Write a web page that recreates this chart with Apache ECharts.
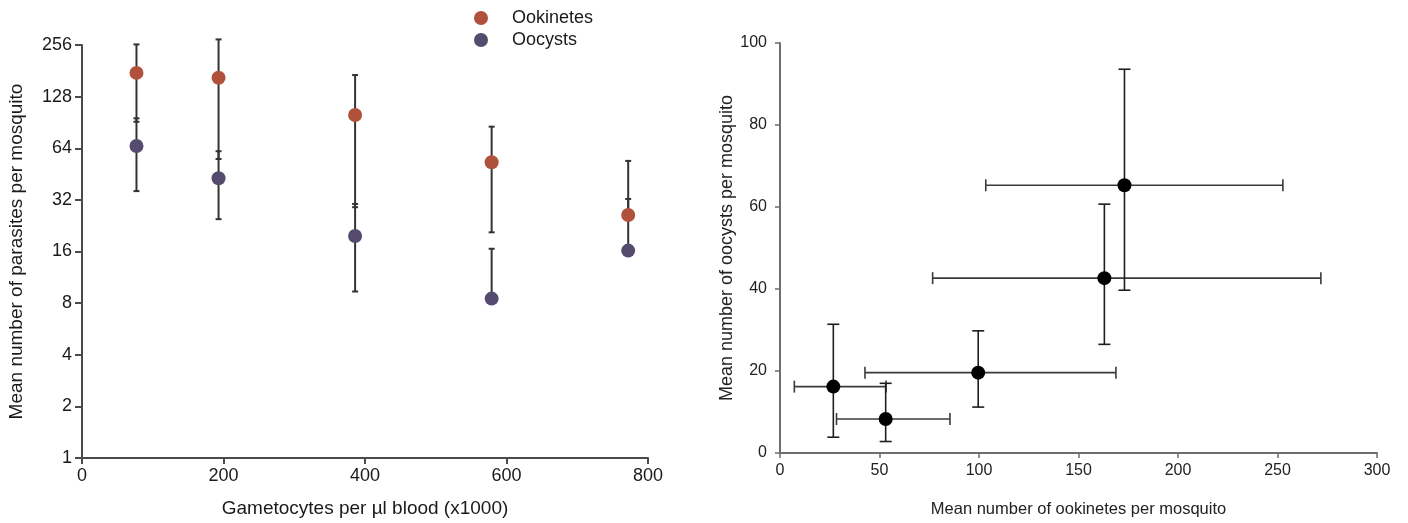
<!DOCTYPE html>
<html>
<head>
<meta charset="utf-8">
<script src="https://cdn.jsdelivr.net/npm/echarts@6/dist/echarts.min.js"></script>
<style>
  html, body { margin: 0; padding: 0; background: #fff; }
  #chart { width: 1408px; height: 523px; }
</style>
</head>
<body>
<div id="chart"></div>
<script>
// Panel A: parasite counts against gametocyte density (log2 scale)
const gametocytes = [77, 193, 386, 579, 772];
const ookinetesMean = [176, 165, 100, 53, 26.1];
const ookinetesLow = [91.3, 55.4, 29.0, 20.7, null];
const ookinetesHigh = [258, 276, 171, 85.5, 54];
const oocystsMean = [66, 42.8, 19.7, 8.5, 16.2];
const oocystsLow = [36, 24.7, 9.35, null, null];
const oocystsHigh = [95.7, 61.5, 30.3, 16.6, 32.4];
const leftYTicks = [1, 2, 4, 8, 16, 32, 64, 128, 256];

// Panel B: oocysts against ookinetes per mosquito
const ookX = [26.8, 53.1, 99.6, 163.0, 173.1];
const ookXLow = [7.2, 28.4, 42.7, 76.7, 103.4];
const ookXHigh = [53.3, 85.4, 168.8, 271.8, 252.7];
const oocY = [16.2, 8.3, 19.6, 42.65, 65.3];
const oocYLow = [3.85, 2.8, 11.2, 26.5, 39.7];
const oocYHigh = [31.4, 17.0, 29.8, 60.7, 93.6];

const ookColor = '#b0523b';
const oocColor = '#544b6f';
const leftFont = '"Liberation Sans", Arial, sans-serif';
const rightFont = '"Liberation Sans Narrow", "Arial Narrow", "Liberation Sans", sans-serif';

const zip = (...cols) => cols[0].map((_, i) => cols.map(c => c[i]));

function verticalBars(cap, color, width) {
  return function (params, api) {
    const x = api.value(0);
    const mean = api.value(1);
    const low = api.value(2);
    const high = api.value(3);
    const pMean = api.coord([x, mean]);
    const pHigh = api.coord([x, high]);
    const hasLow = low != null && !isNaN(low);
    const pLow = hasLow ? api.coord([x, low]) : pMean;
    const style = { stroke: color, lineWidth: width };
    const children = [
      { type: 'line', shape: { x1: pLow[0], y1: pLow[1], x2: pHigh[0], y2: pHigh[1] }, style },
      { type: 'line', shape: { x1: pHigh[0] - cap, y1: pHigh[1], x2: pHigh[0] + cap, y2: pHigh[1] }, style }
    ];
    if (hasLow) {
      children.push({ type: 'line', shape: { x1: pLow[0] - cap, y1: pLow[1], x2: pLow[0] + cap, y2: pLow[1] }, style });
    }
    return { type: 'group', children };
  };
}

function crossBars(params, api) {
  const x = api.value(0), y = api.value(1);
  const xl = api.coord([api.value(2), y]);
  const xh = api.coord([api.value(3), y]);
  const yl = api.coord([x, api.value(4)]);
  const yh = api.coord([x, api.value(5)]);
  const cap = 6;
  const hs = { stroke: '#3a3a3a', lineWidth: 1.6 };
  const vs = { stroke: '#1e1e1e', lineWidth: 1.6 };
  return {
    type: 'group',
    children: [
      { type: 'line', shape: { x1: xl[0], y1: xl[1], x2: xh[0], y2: xh[1] }, style: hs },
      { type: 'line', shape: { x1: xl[0], y1: xl[1] - cap, x2: xl[0], y2: xl[1] + cap }, style: hs },
      { type: 'line', shape: { x1: xh[0], y1: xh[1] - cap, x2: xh[0], y2: xh[1] + cap }, style: hs },
      { type: 'line', shape: { x1: yl[0], y1: yl[1], x2: yh[0], y2: yh[1] }, style: vs },
      { type: 'line', shape: { x1: yl[0] - cap, y1: yl[1], x2: yl[0] + cap, y2: yl[1] }, style: vs },
      { type: 'line', shape: { x1: yh[0] - cap, y1: yh[1], x2: yh[0] + cap, y2: yh[1] }, style: vs }
    ]
  };
}

const leftAxisLine = { show: true, lineStyle: { color: '#4a4a4a', width: 2 } };
const rightAxisLine = { show: true, lineStyle: { color: '#6e6e6e', width: 2 } };

const chart = echarts.init(document.getElementById('chart'), null, { renderer: 'canvas' });
chart.setOption({
  animation: false,
  backgroundColor: '#ffffff',
  legend: {
    data: ['Ookinetes', 'Oocysts'],
    orient: 'vertical',
    left: 469,
    top: 4,
    itemWidth: 14,
    itemHeight: 14,
    itemGap: 4,
    icon: 'circle',
    textStyle: { fontFamily: leftFont, fontSize: 18, color: '#1a1a1a', padding: [0, 0, 0, 19] }
  },
  grid: [
    { left: 82, top: 45, width: 566, height: 413 },
    { left: 780, top: 43, width: 597, height: 415 }
  ],
  xAxis: [
    {
      gridIndex: 0, type: 'value', min: 0, max: 800, interval: 200,
      name: 'Gametocytes per µl blood (x1000)', nameLocation: 'middle', nameGap: 41,
      nameTextStyle: { fontFamily: leftFont, fontSize: 19, color: '#1a1a1a' },
      axisLine: leftAxisLine,
      axisTick: { show: true, length: 6, lineStyle: { color: '#4a4a4a', width: 2 } },
      axisLabel: { fontFamily: leftFont, fontSize: 18, color: '#1a1a1a', margin: 9 },
      splitLine: { show: false }
    },
    {
      gridIndex: 1, type: 'value', min: 0, max: 300, interval: 50,
      name: 'Mean number of ookinetes per mosquito', nameLocation: 'middle', nameGap: 48,
      nameTextStyle: { fontFamily: rightFont, fontSize: 16.5, color: '#222' },
      axisLine: rightAxisLine,
      axisTick: { show: true, length: 5, lineStyle: { color: '#6e6e6e', width: 1.5 } },
      axisLabel: { fontFamily: rightFont, fontSize: 16, color: '#222', margin: 10 },
      splitLine: { show: false }
    }
  ],
  yAxis: [
    {
      gridIndex: 0, type: 'log', logBase: 2, min: 1, max: 256, splitNumber: 8,
      name: 'Mean number of parasites per mosquito', nameLocation: 'middle', nameGap: 56,
      nameTextStyle: { fontFamily: leftFont, fontSize: 19, color: '#1a1a1a' },
      axisLine: leftAxisLine,
      axisTick: { show: true, length: 7, lineStyle: { color: '#4a4a4a', width: 2 } },
      axisLabel: {
        fontFamily: leftFont, fontSize: 18, color: '#1a1a1a', margin: 10,
        formatter: v => {
          const r = Math.round(v);
          return leftYTicks.includes(r) ? String(r) : '';
        }
      },
      splitLine: { show: false }
    },
    {
      gridIndex: 1, type: 'value', min: 0, max: 100, interval: 20,
      name: 'Mean number of oocysts per mosquito', nameLocation: 'middle', nameGap: 44,
      nameTextStyle: { fontFamily: rightFont, fontSize: 18, color: '#222' },
      axisLine: rightAxisLine,
      axisTick: { show: true, length: 5, lineStyle: { color: '#6e6e6e', width: 1.5 } },
      axisLabel: { fontFamily: rightFont, fontSize: 16, color: '#222', margin: 13 },
      splitLine: { show: false }
    }
  ],
  series: [
    {
      name: 'ookinete error', type: 'custom', xAxisIndex: 0, yAxisIndex: 0, z: 2,
      renderItem: verticalBars(3, '#333333', 2),
      encode: { x: 0, y: [1, 3] },
      data: zip(gametocytes, ookinetesMean, ookinetesLow, ookinetesHigh)
    },
    {
      name: 'oocyst error', type: 'custom', xAxisIndex: 0, yAxisIndex: 0, z: 2,
      renderItem: verticalBars(3, '#333333', 2),
      encode: { x: 0, y: [1, 3] },
      data: zip(gametocytes, oocystsMean, oocystsLow, oocystsHigh)
    },
    {
      name: 'Ookinetes', type: 'scatter', xAxisIndex: 0, yAxisIndex: 0, z: 5,
      symbolSize: 14, itemStyle: { color: ookColor, opacity: 1 },
      data: zip(gametocytes, ookinetesMean)
    },
    {
      name: 'Oocysts', type: 'scatter', xAxisIndex: 0, yAxisIndex: 0, z: 5,
      symbolSize: 14, itemStyle: { color: oocColor, opacity: 1 },
      data: zip(gametocytes, oocystsMean)
    },
    {
      name: 'paired error', type: 'custom', xAxisIndex: 1, yAxisIndex: 1, z: 2,
      renderItem: crossBars,
      encode: { x: [0, 2, 3], y: [1, 4, 5] },
      data: zip(ookX, oocY, ookXLow, ookXHigh, oocYLow, oocYHigh)
    },
    {
      name: 'paired means', type: 'scatter', xAxisIndex: 1, yAxisIndex: 1, z: 5,
      symbolSize: 14, itemStyle: { color: '#000000', opacity: 1 },
      data: zip(ookX, oocY)
    }
  ]
});
</script>
</body>
</html>
